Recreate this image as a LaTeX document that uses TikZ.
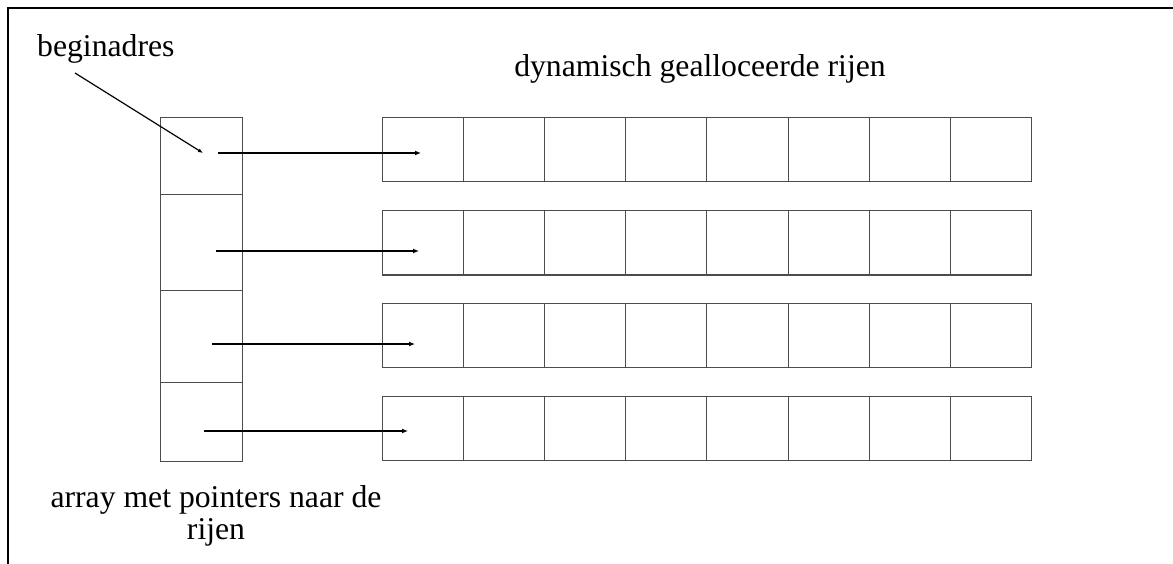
\documentclass[tikz,border=0pt]{standalone}
\usepackage{fontspec}
\setmainfont{Liberation Serif}
\usetikzlibrary{arrows.meta}
\begin{document}
\begin{tikzpicture}[x=1pt,y=-1pt,
  cell/.style={draw=black!70,line width=1pt,inner sep=0pt,anchor=north west},
  ptr/.style={line width=2pt,-{Latex[length=6pt,width=5pt]}},
  lbl/.style={inner sep=0pt,font=\fontsize{31.7}{32}\selectfont},
  frameline/.style={line width=1.5pt}]
\useasboundingbox (0,0) rectangle (1173,564);
% open frame: top and left edge
\draw[frameline] (1173,8) -- (8,8) -- (8,564);

% column of pointers
\node[cell,minimum width=82pt,minimum height=77pt]   (p1) at (160,117)   {};
\node[cell,minimum width=82pt,minimum height=95.5pt] (p2) at (160,194)   {};
\node[cell,minimum width=82pt,minimum height=92.5pt] (p3) at (160,289.5) {};
\node[cell,minimum width=82pt,minimum height=79pt]   (p4) at (160,382)   {};

% dynamically allocated rows, eight cells each
\foreach \r/\y in {1/117,2/210.5,3/303,4/396}{
  \foreach \c in {1,...,8}{
    \node[cell,minimum width=81.1pt,minimum height=64pt] (r\r c\c) at ({382+(\c-1)*81.1},\y) {};
  }
}

% labels
\node[lbl,anchor=base west] (begin) at (37,57) {beginadres};
\node[lbl,anchor=base] (rows) at (700,77) {dynamisch gealloceerde rijen};
\node[lbl,anchor=north,align=center] (arr) at (216,485) {array met pointers naar de\\rijen};

% pointer ends
\coordinate (b0) at (75,73);
\coordinate (b1) at (203,153);
\coordinate (s1) at (218,153);  \coordinate (e1) at (421,153);
\coordinate (s2) at (216,251);  \coordinate (e2) at (419,251);
\coordinate (s3) at (212,344);  \coordinate (e3) at (415,344);
\coordinate (s4) at (204,431);  \coordinate (e4) at (408,431);

\draw[line width=1.2pt,-{Latex[length=5pt,width=4pt]}] (b0) -- (b1);
\foreach \i in {1,...,4}{
  \draw[ptr] (s\i) -- (e\i);
}
\end{tikzpicture}
\end{document}
